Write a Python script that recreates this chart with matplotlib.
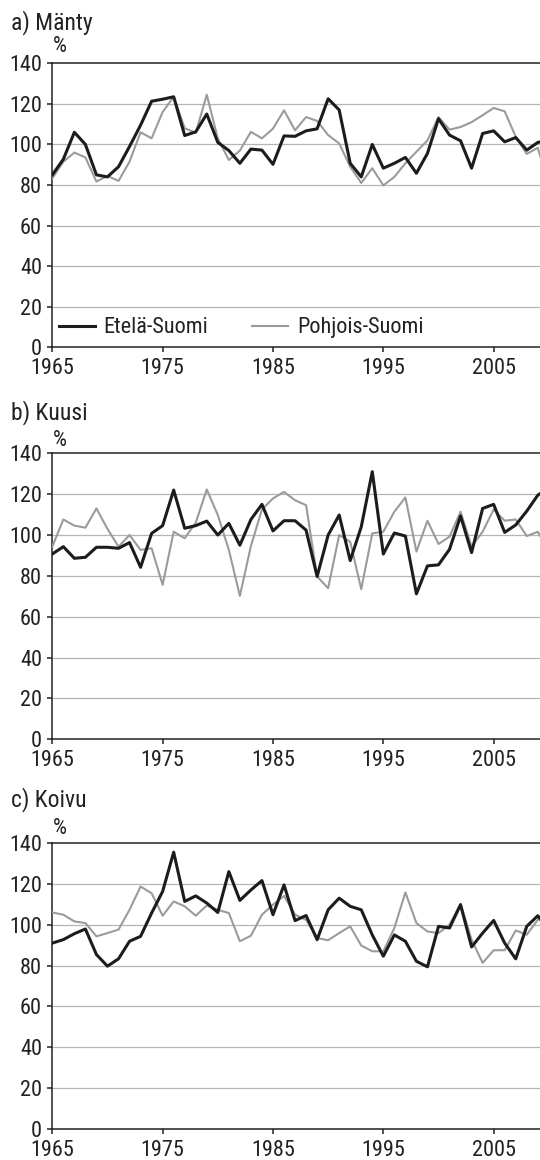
import matplotlib
matplotlib.use("Agg")
import matplotlib.pyplot as plt

plt.rcParams['font.family'] = ['Roboto Condensed', 'DejaVu Sans']

years = list(range(1965, 2011))

etela_manty = [85, 92.7, 106, 100, 85, 84, 89, 99, 109.5, 121.3, 122.3, 123.5, 104.4, 106.2, 115,
               101, 97, 90.7, 97.7, 97.2, 90.2, 104.2, 104, 106.7, 107.7, 122.5, 117, 90.7, 84, 100,
               88.3, 90.7, 93.6, 85.8, 95.6, 112.7, 104.6, 101.8, 88.3, 105.4, 106.7, 101.3, 103.4,
               97.2, 101, 102]
pohjois_manty = [83.3, 91.5, 96, 93.6, 81.7, 84.5, 82, 91.5, 106, 103, 116, 123.5, 108, 105.7, 124.5,
                 103, 92.3, 97, 106.2, 103, 107.8, 116.8, 107, 113.5, 111.6, 104.6, 100.5, 89, 81, 88.3,
                 79.8, 84, 90.7, 96.4, 102, 113.5, 107.3, 108.6, 111, 114.4, 118, 116.3, 103.8,
                 95.3, 98.4, 80]

etela_kuusi = [90.7, 94.3, 88.6, 89.1, 94, 94, 93.5, 96.3, 84.2, 100.8, 104.6, 122, 103.3, 104.6, 106.8,
               100, 105.7, 95, 107.6, 115, 102, 107, 107, 102.4, 79.7, 100, 109.8, 87.5, 104, 131,
               90.7, 101, 99.5, 71.2, 84.9, 85.4, 93, 109.3, 91.4, 113, 115, 101.3, 104.9,
               111.7, 119.5, 123]
pohjois_kuusi = [94.3, 107.6, 104.6, 103.6, 113, 103, 94.3, 100, 92.7, 93.5, 75.6, 101.6, 98.4, 106, 122.3,
                 109.8, 92.7, 70.2, 94.6, 112.5, 117.9, 121.1, 117, 114.6, 79.7, 74, 100, 96.7, 73.5, 100.8,
                 101.6, 111.4, 118.4, 91.9, 107, 95.6, 99.2, 111.4, 94.3, 101.6, 112.5, 107, 107.6,
                 99.5, 101.6, 92]

etela_koivu = [91, 92.7, 95.6, 97.9, 85.4, 79.7, 83.3, 91.9, 94.3, 105.7, 116.3, 135.5, 111.4, 114.1, 110.6,
               106, 126, 111.9, 117, 121.6, 104.9, 119.5, 102, 104.5, 92.7, 107.3, 113, 109, 107.3, 95,
               84.6, 95, 91.9, 82.1, 79.4, 99.2, 98.4, 109.8, 89.1, 95.9, 102.1, 91, 83.3,
               99.2, 104.4, 97]
pohjois_koivu = [106, 104.9, 101.6, 100.8, 94.3, 95.9, 97.6, 107.3, 118.7, 115.4, 104.4, 111.4, 109, 104.4, 109.4,
                 107.3, 105.7, 91.9, 94.6, 104.9, 109.8, 114.1, 104.9, 102.4, 93.5, 92.4, 95.9, 99.2, 89.8, 87,
                 87, 98.4, 115.8, 100.8, 96.7, 95.9, 100, 110.2, 92.7, 81.3, 87.5, 87.5, 97.2,
                 95.1, 102.4, 106]

titles = ["a) Mänty", "b) Kuusi", "c) Koivu"]
series = [(etela_manty, pohjois_manty), (etela_kuusi, pohjois_kuusi), (etela_koivu, pohjois_koivu)]
labels = ["Etelä-Suomi", "Pohjois-Suomi"]
xticks = [1965, 1975, 1985, 1995, 2005]
yticks = [0, 20, 40, 60, 80, 100, 120, 140]

W, H = 540, 1160
fig = plt.figure(figsize=(W / 100, H / 100), dpi=100)

# pixel layout: (top of axes at 140, bottom at 0, title y, percent y)
panels = [(63.3, 347.3, 23, 47), (453.3, 739.3, 413, 440), (843, 1129, 800, 828)]
left_px = 52.3
fs = 16

for (top, bottom, ty, py), title, (south, north) in zip(panels, titles, series):
    ax = fig.add_axes([left_px / W, 1 - bottom / H, 1 - left_px / W, (bottom - top) / H])
    ax.set_xlim(1965, 2009.2)
    ax.set_ylim(0, 140)
    for v in yticks[1:-1]:
        ax.axhline(v, color="#b5b5b5", lw=0.9, zorder=1)
    ax.plot(years, north, color="#9b9b9b", lw=1.5, zorder=3, label=labels[1])
    ax.plot(years, south, color="#1c1c1c", lw=2.2, zorder=4, label=labels[0])
    for s in ["left", "bottom", "top"]:
        ax.spines[s].set_color("#222222")
        ax.spines[s].set_linewidth(1.1)
    ax.spines["right"].set_visible(False)
    ax.set_xticks(xticks)
    ax.set_yticks(yticks)
    ax.tick_params(axis="both", labelsize=fs, length=3.5, width=1.1, color="#222222",
                   labelcolor="#222222")
    ax.tick_params(axis="x", pad=4.5)
    ax.tick_params(axis="y", pad=4)
    ax.set_facecolor("white")
    fig.text(11 / W, 1 - ty / H, title, fontsize=fs + 1, ha="left", va="center", color="#222222")
    fig.text(60 / W, 1 - py / H, "%", fontsize=fs, ha="center", va="center", color="#222222")
    if title.startswith("a"):
        h, l = ax.get_legend_handles_labels()
        ax.legend([h[1], h[0]], [l[1], l[0]], ncol=2, frameon=False, fontsize=fs,
                  loc="center left", bbox_to_anchor=(0.0, 0.068),
                  handlelength=1.6, handletextpad=0.4, columnspacing=2.0,
                  borderaxespad=0, borderpad=0.3, labelcolor="#222222")

fig.savefig("out.png", dpi=100, facecolor="white")
